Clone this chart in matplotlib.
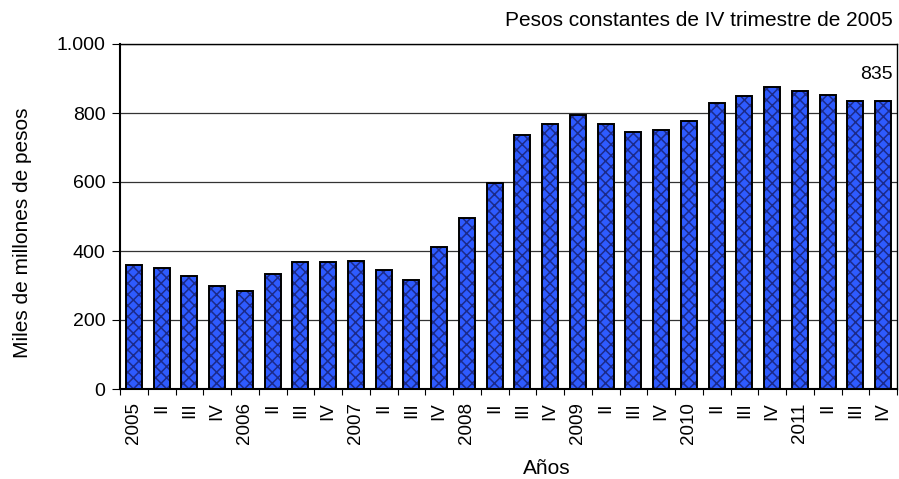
import matplotlib
matplotlib.use("Agg")
import matplotlib.pyplot as plt
import numpy as np

plt.rcParams['font.family'] = ['Liberation Sans', 'DejaVu Sans']

labels = ["2005", "II", "III", "IV", "2006", "II", "III", "IV", "2007", "II", "III", "IV",
          "2008", "II", "III", "IV", "2009", "II", "III", "IV", "2010", "II", "III", "IV",
          "2011", "II", "III", "IV"]
values = [358, 352, 328, 300, 283, 334, 367, 367, 372, 345, 317, 412,
          497, 598, 735, 767, 795, 767, 745, 750, 778, 830, 848, 875,
          864, 852, 836, 835]

W, H = 899, 479
fig = plt.figure(figsize=(W / 100, H / 100), dpi=100)
ax = fig.add_axes([120 / W, 1 - 389 / H, 777 / W, 345 / H])

x = np.arange(len(values))
plt.rcParams['hatch.linewidth'] = 1.1
ax.bar(x, values, width=0.58, color='#2E5BFF', edgecolor='#1B2A8A', hatch='xxx', linewidth=0, zorder=3)
ax.bar(x, values, width=0.58, fill=False, edgecolor='black', linewidth=1.4, zorder=4)

ax.set_xlim(-0.5, len(values) - 0.5)
ax.set_ylim(0, 1000)
ax.set_yticks([0, 200, 400, 600, 800, 1000])
ax.set_yticklabels(["0", "200", "400", "600", "800", "1.000"], fontsize=14)
ax.yaxis.grid(True, color='#333333', linewidth=0.9, zorder=0)
ax.set_axisbelow(True)

ax.set_xticks(np.arange(-0.5, len(values), 1))
ax.set_xticklabels([])
ax.tick_params(axis='x', which='major', length=4.5, direction='out', color='black')
ax.set_xticks(x, minor=True)
ax.set_xticklabels(labels, minor=True, rotation=90, fontsize=13.5)
ax.tick_params(axis='x', which='minor', length=0, pad=9.5)
ax.tick_params(axis='y', length=6, direction='out', pad=4.5)

for s in ax.spines.values():
    s.set_linewidth(1.0)
ax.spines['left'].set_linewidth(1.5)
ax.spines['bottom'].set_linewidth(1.5)

fig.text(23 / W, 1 - 233 / H, "Miles de millones de pesos", rotation=90,
         ha='center', va='center', fontsize=15)
fig.text(547 / W, 1 - 468 / H, "Años", ha='center', va='center', fontsize=15)

ax.text(x[-1] + 0.36, 911, str(values[-1]), ha='right', va='center', fontsize=14)
fig.text(893 / W, 1 - 11 / H, "Pesos constantes de IV trimestre de 2005", ha='right', va='top', fontsize=15)

fig.savefig("out.png", dpi=100)
